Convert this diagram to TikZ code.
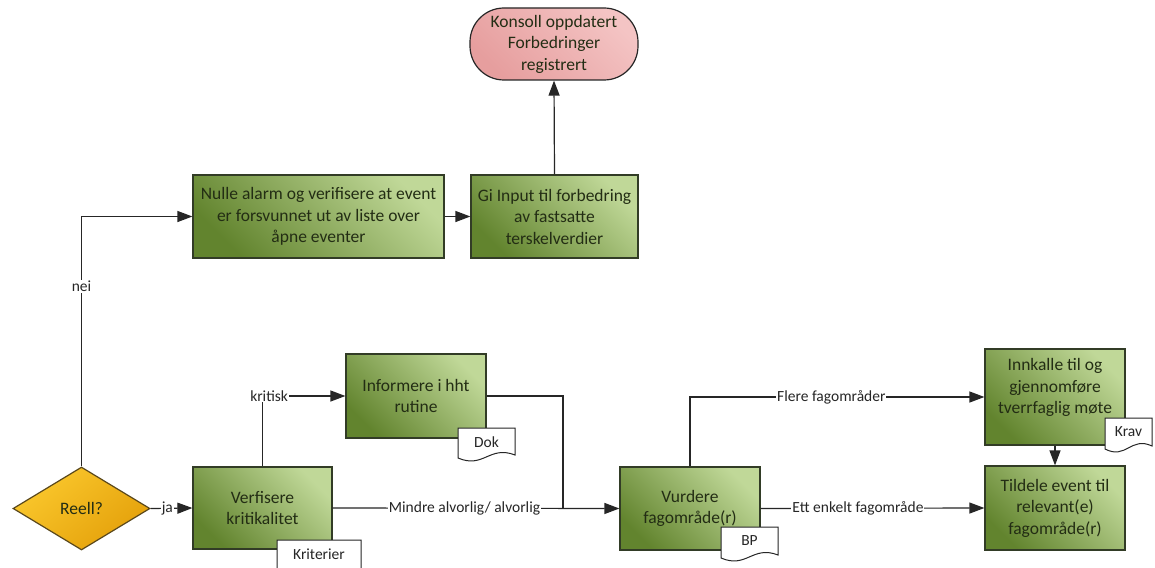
\documentclass[tikz,border=0pt]{standalone}
\usepackage{fontspec}
\setmainfont{Carlito}
\usetikzlibrary{shapes.geometric,arrows.meta,calc}

\definecolor{boxdark}{RGB}{98,132,46}
\definecolor{boxlight}{RGB}{192,216,152}
\definecolor{boxline}{RGB}{50,60,38}
\definecolor{boxtext}{RGB}{35,45,20}
\definecolor{linegrey}{RGB}{38,38,38}
\definecolor{goldA}{RGB}{250,200,45}
\definecolor{goldB}{RGB}{228,160,10}
\definecolor{goldline}{RGB}{90,72,28}
\definecolor{pinkA}{RGB}{230,158,158}
\definecolor{pinkB}{RGB}{244,196,196}

\tikzset{
  box/.style={draw=boxline, line width=1.2pt, top color=boxlight, bottom color=boxdark,
    shading angle=-45, text=boxtext, align=center, inner sep=2pt,
    font=\fontsize{17.5}{21.5}\selectfont},
  decision/.style={diamond, draw=goldline, line width=1.2pt, top color=goldA, bottom color=goldB,
    shading angle=40, inner sep=0pt, text=boxtext, font=\fontsize{17.5}{21.5}\selectfont},
  terminal/.style={draw=linegrey, line width=1.2pt, rounded corners=34pt, top color=pinkB,
    bottom color=pinkA, shading angle=-45, align=center, text=boxtext,
    font=\fontsize{17.5}{21.5}\selectfont},
  conn/.style={draw=linegrey, line width=1.2pt},
  arr/.style={conn, -{Triangle[length=15pt,width=11pt]}},
  lbl/.style={fill=white, inner sep=1pt, text=black!85, font=\fontsize{15.5}{18}\selectfont},
  docline/.style={draw=linegrey, line width=1pt, fill=white},
  doctext/.style={inner sep=0pt, text=black!85, font=\fontsize{15.5}{18}\selectfont},
}

% document sheet with a wavy lower edge: name, x1, y1, x2, y2, text
\newcommand{\docsheet}[6]{%
  \draw[docline] (#2,#3) -- (#4,#3) -- (#4,{#5-6})
    .. controls ({#2+0.55*(#4-#2)},{#5-16}) and ({#2+0.45*(#4-#2)},{#5+8}) .. (#2,{#5-3}) -- cycle;
  \node[doctext] (#1) at ({0.5*(#2+#4)},{#3+14}) {#6};
}

\begin{document}
\begin{tikzpicture}[x=1pt,y=-1pt]
\clip (0,0) rectangle (1155,567);
\fill[white] (0,0) rectangle (1155,567);

% upper row
\node[terminal, minimum width=168, minimum height=72] (done) at (554,44)
  {Konsoll oppdatert\\Forbedringer\\registrert};
\node[box, minimum width=251, minimum height=83] (nulle) at (318.5,216.5)
  {Nulle alarm og verifisere at event\\er forsvunnet ut av liste over\\åpne eventer};
\node[box, minimum width=167, minimum height=83] (input) at (554.5,216.5)
  {Gi Input til forbedring\\av fastsatte\\terskelverdier};

% lower row
\node[decision, minimum width=137, minimum height=83] (reell) at (81.5,508.5) {Reell?};
\node[box, minimum width=139, minimum height=82] (verf) at (262.5,508) {Verfisere\\kritikalitet};
\node[box, minimum width=140, minimum height=84] (info) at (416,396) {Informere i hht\\rutine};
\node[box, minimum width=140, minimum height=83] (vurd) at (690,508.5) {Vurdere\\fagområde(r)};
\node[box, minimum width=140, minimum height=96, text depth=22pt] (innk) at (1055,397)
  {Innkalle til og\\gjennomføre\\tverrfaglig møte};
\node[box, minimum width=140, minimum height=84] (tild) at (1055,508)
  {Tildele event til\\relevant(e)\\fagområde(r)};

% connectors
\coordinate (join) at (563,508.5);
\draw[arr] (reell.north) |- node[lbl, pos=0.36] {nei} (nulle.west);
\draw[arr] (nulle.east) -- (input.west);
\draw[arr] (input.north) -- (done.south);
\draw[arr] (reell.east) -- node[lbl, pos=0.4] {ja} (verf.west);
\draw[arr] (verf.north) |- node[lbl, pos=0.54] {kritisk} (info.west);
\draw[conn] (info.east) -| (join);
\draw[arr] (verf.east) -- node[lbl, pos=0.46] {Mindre alvorlig/ alvorlig} (vurd.west);
\draw[arr] (vurd.north) |- node[lbl, pos=0.74] {Flere fagområder} (innk.west);
\draw[arr] (vurd.east) -- node[lbl, pos=0.435] {Ett enkelt fagområde} (tild.west);
\draw[arr] (innk.south) -- (tild.north);

% documents attached to the process boxes
\docsheet{krit}{277}{540}{361}{580}{Kriterier}
\docsheet{dok}{458}{428}{515}{461}{Dok}
\docsheet{bp}{721}{527}{778}{561}{BP}
\docsheet{krav}{1105}{418}{1152}{452}{Krav}
\end{tikzpicture}
\end{document}
